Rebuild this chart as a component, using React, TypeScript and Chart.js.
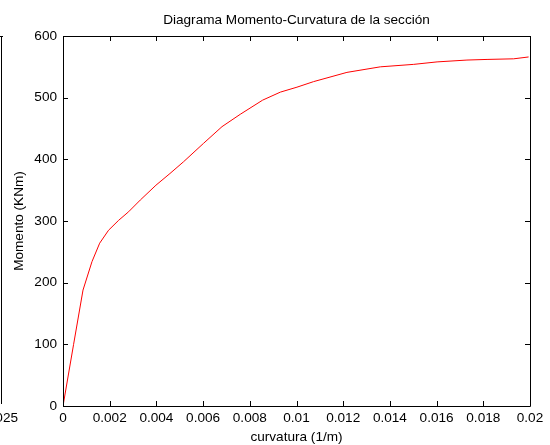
import React, { useEffect, useRef } from "react";
import { Chart, registerables } from "chart.js";

Chart.register(...registerables);

const curvatura = [0, 0.000454, 0.000857, 0.00124, 0.00157, 0.00195, 0.00238, 0.00281, 0.00331, 0.00398, 0.00458, 0.00516, 0.00602, 0.00681, 0.00759, 0.00855, 0.00931, 0.01002, 0.01073, 0.01216, 0.01359, 0.01502, 0.01602, 0.0173, 0.01816, 0.0193, 0.01994];
const momento = [0, 100, 188, 234, 264, 285, 301, 315, 334, 358, 377, 396, 426, 453, 473, 496, 509, 517, 526, 541, 550, 554, 558, 561, 562, 563, 566];

const titleText = "Diagrama Momento-Curvatura de la sección";
const xTitle = "curvatura (1/m)";
const yTitle = "Momento (KNm)";
const strayLabel = "0.025";

const FAMILY = "'Liberation Sans', Arial, sans-serif";
const SIZE = 13.6;
const FONT = `${SIZE}px ${FAMILY}`;

const framePlugin = {
  id: "frame",
  afterDraw(chart: any) {
    const { ctx, chartArea: a, scales } = chart;
    const xs = scales.x;
    const ys = scales.y;
    ctx.save();
    ctx.strokeStyle = "#000";
    ctx.lineWidth = 1;
    ctx.beginPath();
    ctx.rect(Math.round(a.left) + 0.5, Math.round(a.top) + 0.5, Math.round(a.right - a.left), Math.round(a.bottom - a.top));
    ctx.stroke();
    const tl = 5;
    ctx.beginPath();
    xs.ticks.forEach((t: any) => {
      const px = Math.round(xs.getPixelForValue(t.value)) + 0.5;
      ctx.moveTo(px, a.bottom);
      ctx.lineTo(px, a.bottom - tl);
      ctx.moveTo(px, a.top);
      ctx.lineTo(px, a.top + tl);
    });
    ys.ticks.forEach((t: any) => {
      const py = Math.round(ys.getPixelForValue(t.value)) + 0.5;
      ctx.moveTo(a.left, py);
      ctx.lineTo(a.left + tl, py);
      ctx.moveTo(a.right, py);
      ctx.lineTo(a.right - tl, py);
    });
    ctx.stroke();

    // stray neighbouring figure edge
    ctx.beginPath();
    ctx.moveTo(1.5, a.top);
    ctx.lineTo(1.5, a.bottom - 2);
    ctx.moveTo(0, a.top + 0.5);
    ctx.lineTo(3, a.top + 0.5);
    ctx.stroke();

    ctx.fillStyle = "#000";
    ctx.font = FONT;
    ctx.textAlign = "center";
    ctx.textBaseline = "middle";
    const cx = (a.left + a.right) / 2;
    ctx.fillText(titleText, cx, 20);
    ctx.fillText(xTitle, cx, 437.5);
    ctx.fillText(strayLabel, 1, 418);
    ctx.save();
    ctx.translate(19, (a.top + a.bottom) / 2);
    ctx.rotate(-Math.PI / 2);
    ctx.fillText(yTitle, 0, 0);
    ctx.restore();
    ctx.restore();
  },
};

export default function App() {
  const ref = useRef<HTMLCanvasElement | null>(null);
  useEffect(() => {
    if (!ref.current) return;
    const data = curvatura.map((x, i) => ({ x, y: momento[i] }));
    const chart = new Chart(ref.current, {
      type: "scatter",
      data: {
        datasets: [
          {
            data,
            showLine: true,
            borderColor: "#ff0000",
            borderWidth: 1,
            pointRadius: 0,
            tension: 0,
            fill: false,
          },
        ],
      },
      options: {
        responsive: false,
        animation: false,
        layout: { padding: { left: 0, right: 20, top: 36, bottom: 0 } },
        plugins: { legend: { display: false }, tooltip: { enabled: false }, title: { display: false } },
        scales: {
          x: {
            type: "linear",
            min: 0,
            max: 0.02,
            grid: { display: false, drawTicks: false },
            border: { display: false },
            ticks: {
              stepSize: 0.002,
              padding: 4,
              color: "#000",
              maxRotation: 0,
              autoSkip: false,
              font: { family: FAMILY, size: SIZE },
              callback: (v: any) => String(Number(Number(v).toFixed(3))),
            },
            afterFit: (s: any) => {
              s.height = 39;
            },
          },
          y: {
            type: "linear",
            min: 0,
            max: 600,
            grid: { display: false, drawTicks: false },
            border: { display: false },
            ticks: {
              stepSize: 100,
              padding: 6,
              color: "#000",
              font: { family: FAMILY, size: SIZE },
            },
            afterFit: (s: any) => {
              s.width = 63;
            },
          },
        },
      },
      plugins: [framePlugin],
    });
    return () => chart.destroy();
  }, []);
  return (
    <div style={{ position: "absolute", left: 0, top: 0, width: 550, height: 445, background: "#fff" }}>
      <canvas ref={ref} width={550} height={445} style={{ display: "block" }} />
    </div>
  );
}
